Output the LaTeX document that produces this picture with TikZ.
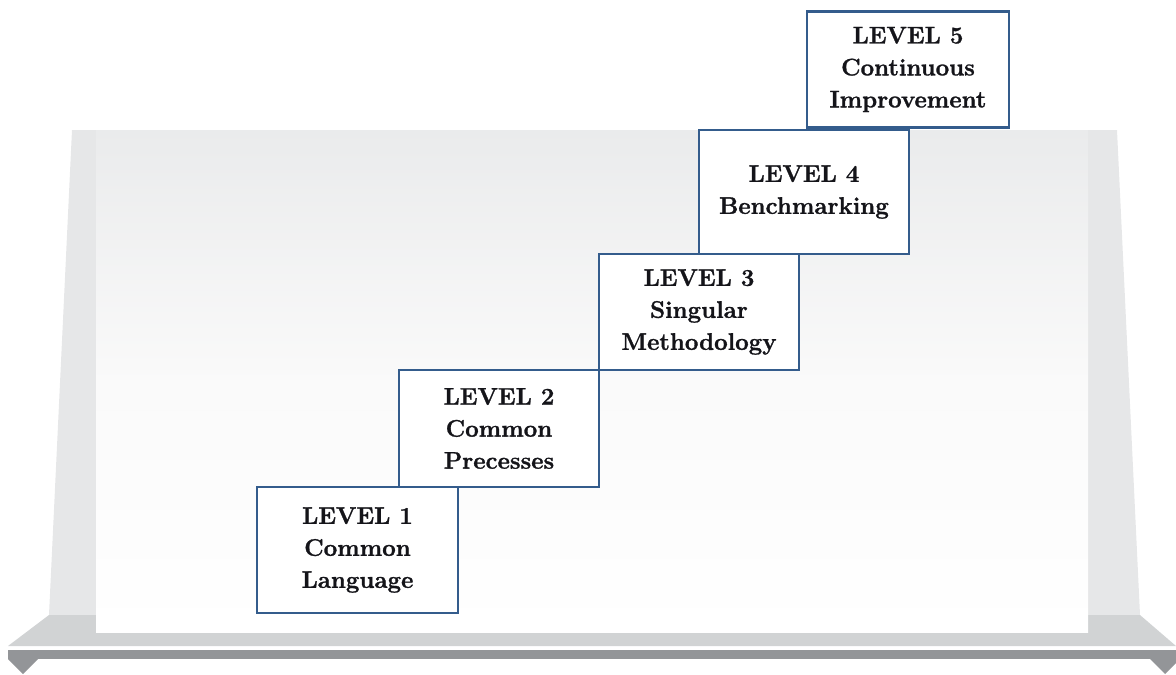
\documentclass[tikz,border=0pt]{standalone}
\usepackage{fontspec}
\setmainfont{Latin Modern Roman}[BoldFeatures={FakeBold=1.2}]
\usetikzlibrary{positioning}
\definecolor{framegray}{RGB}{230,231,232}
\definecolor{panelgray}{RGB}{234,235,236}
\definecolor{shelfgray}{RGB}{209,211,212}
\definecolor{bargray}{RGB}{147,149,152}
\definecolor{boxblue}{RGB}{52,92,140}
\definecolor{txt}{RGB}{20,20,25}
\tikzset{
  lvl/.style={draw=boxblue, line width=2.8pt, fill=white, rectangle, inner sep=0pt,
    align=center, text=txt, font=\bfseries\fontsize{24}{32}\selectfont},
}
\begin{document}
\begin{tikzpicture}[x=1pt,y=-1pt]
\useasboundingbox (0,0) rectangle (1176,675);
% frame
\fill[framegray] (72,130) -- (1117,130) -- (1140,615) -- (49,615) -- cycle;
% shelf
\fill[shelfgray] (49,615) -- (1140,615) -- (1176,646) -- (8,646) -- cycle;
% inner panel
\shade[top color=panelgray, bottom color=white, middle color=gray!4] (96,130) rectangle (1088,632);
% bar
\fill[bargray] (8,649.5) rectangle (1176,659);
\fill[bargray] (8,659) -- (38,659) -- (23,674) -- cycle;
\fill[bargray] (1150,659) -- (1180,659) -- (1165,674) -- cycle;
% levels
\node[lvl, minimum width=201, minimum height=126] (l1) at (357.5,550) {LEVEL 1\\Common\\Language};
\node[lvl, minimum width=200, minimum height=117] (l2) at (499,428.5) {LEVEL 2\\Common\\Precesses};
\node[lvl, minimum width=200, minimum height=116] (l3) at (699,312) {LEVEL 3\\Singular\\Methodology};
\node[lvl, minimum width=210, minimum height=124] (l4) at (804,192) {LEVEL 4\\Benchmarking};
\node[lvl, minimum width=202, minimum height=116] (l5) at (908,69.5) {LEVEL 5\\Continuous\\Improvement};
\end{tikzpicture}
\end{document}
